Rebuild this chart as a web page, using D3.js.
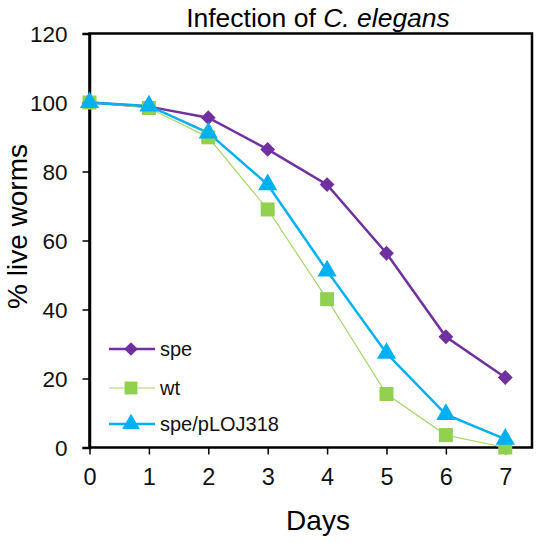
<!DOCTYPE html>
<html><head><meta charset="utf-8">
<script src="https://cdn.jsdelivr.net/npm/d3@7"></script>
<style>body{margin:0;background:#fff;} svg{display:block;font-family:"Liberation Sans",Arial,sans-serif;}</style>
</head><body>
<svg id="c" width="542" height="543"></svg>
<script>
const days = [0,1,2,3,4,5,6,7];
const speValues = [100, 98.8, 95.6, 86.4, 76.2, 56.3, 32.1, 20.3];
const wtValues = [100, 98.4, 89.9, 69.0, 43.0, 15.5, 3.6, 0];
const pLOJValues = [100, 99.0, 91.2, 76.2, 51.2, 27.3, 9.6, 2.4];
const seriesNames = ["spe", "wt", "spe/pLOJ318"];
const yTicks = [0,20,40,60,80,100,120];
const xTicks = [0,1,2,3,4,5,6,7];

const svg = d3.select("#c");
const L = 89.5, R = 532, T = 33.5, B = 447.5;
const x = d3.scaleLinear().domain([0, 7.45]).range([L, R]);
const y = d3.scaleLinear().domain([0, 120]).range([B, T]);

// plot frame
svg.append("rect").attr("x", L).attr("y", T).attr("width", R - L).attr("height", B - T)
  .attr("fill", "none").attr("stroke", "#000").attr("stroke-width", 2.5);

// y axis
const yAxis = svg.append("g").attr("transform", `translate(${L},0)`)
  .call(d3.axisLeft(y).tickValues(yTicks).tickSize(7).tickPadding(15));
yAxis.select(".domain").attr("stroke", "#000").attr("stroke-width", 2.5);
yAxis.selectAll(".tick line").attr("stroke", "#000").attr("stroke-width", 1.5);
yAxis.selectAll(".tick text").attr("font-size", 22.5).attr("fill", "#111").attr("dy", "0.36em");

// x axis
const xAxis = svg.append("g").attr("transform", `translate(0,${B})`)
  .call(d3.axisBottom(x).tickValues(xTicks).tickSize(7).tickPadding(14));
xAxis.select(".domain").remove();
xAxis.selectAll(".tick line").attr("stroke", "#000").attr("stroke-width", 1.5);
xAxis.selectAll(".tick text").attr("font-size", 23.5).attr("fill", "#111");

// title
svg.append("text").attr("x", 318).attr("y", 27).attr("text-anchor", "middle")
  .attr("font-size", 26.5).attr("fill", "#000")
  .call(t => { t.append("tspan").text("Infection of "); t.append("tspan").attr("font-style", "italic").text("C. elegans"); });

// axis titles
svg.append("text").attr("x", 318).attr("y", 530).attr("text-anchor", "middle")
  .attr("font-size", 28).attr("fill", "#000").text("Days");
svg.append("text").attr("transform", "translate(27,226.5) rotate(-90)").attr("text-anchor", "middle")
  .attr("font-size", 28).attr("fill", "#000").text("% live worms");

const series = [
  {name: seriesNames[0], values: speValues, color: "#7030A0", width: 2.5, symbol: d3.symbolSquare, rot: 45, size: 110, lineColor: "#7030A0"},
  {name: seriesNames[1], values: wtValues, color: "#92D050", width: 1.2, symbol: d3.symbolSquare, rot: 0, size: 196, lineColor: "#A9D86E"},
  {name: seriesNames[2], values: pLOJValues, color: "#00B0F0", width: 2.5, symbol: d3.symbolTriangle, rot: 0, size: 160, lineColor: "#00B0F0"}
];

const line = d3.line().x((d,i) => x(days[i])).y(d => y(d));
series.forEach(s => {
  svg.append("path").attr("d", line(s.values)).attr("fill", "none")
    .attr("stroke", s.lineColor).attr("stroke-width", s.width);
});
series.forEach(s => {
  svg.append("g").selectAll("path").data(s.values).join("path")
    .attr("transform", (d,i) => `translate(${x(days[i])},${y(d)}) rotate(${s.rot})`)
    .attr("d", d3.symbol().type(s.symbol).size(s.size))
    .attr("fill", s.color);
});

// legend
const legY = [349, 388, 424];
series.forEach((s, i) => {
  const g = svg.append("g").attr("transform", `translate(0,${legY[i]})`);
  g.append("line").attr("x1", 109).attr("x2", 155).attr("y1", 0).attr("y2", 0)
    .attr("stroke", s.lineColor).attr("stroke-width", s.width);
  g.append("path").attr("transform", `translate(131,0) rotate(${s.rot})`)
    .attr("d", d3.symbol().type(s.symbol).size(s.size * 0.85)).attr("fill", s.color);
  g.append("text").attr("x", 160).attr("y", 0).attr("dy", "0.35em")
    .attr("font-size", 20).attr("fill", "#111").text(s.name);
});
</script>
</body></html>
